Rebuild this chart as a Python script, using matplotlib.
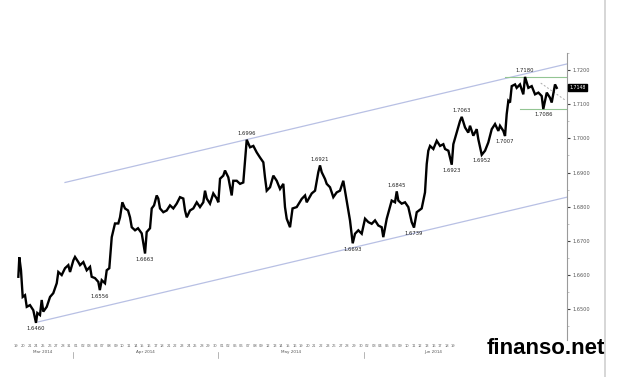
import numpy as np
import pandas as pd
import matplotlib
matplotlib.use('Agg')
import matplotlib.pyplot as plt
import matplotlib.transforms as mtrans
from matplotlib.lines import Line2D

# trading-day position (0 = 19 Mar 2014) and price
t = [0.29, 0.44, 0.69, 0.95, 1.30, 1.56, 2.05, 2.55, 2.96, 3.16, 3.56, 3.82, 4.06, 4.58, 5.08,
     5.57, 6.09, 6.33, 6.84, 7.34, 7.84, 8.10, 8.60, 8.85, 9.35, 9.61, 10.11, 10.62, 11.12, 11.37,
     11.87, 12.37, 12.6, 12.89, 13.38, 13.64, 14.03, 14.40, 14.89, 15.39, 15.65, 16.0, 16.40, 16.86,
     17.16, 17.42, 17.92, 18.37, 18.93, 19.43, 19.68, 20.18, 20.44, 20.79, 21.19, 21.43, 21.69,
     22.19, 22.70, 23.20, 23.70, 24.21, 24.71, 25.21, 25.47, 25.73, 26.22, 26.72, 27.24, 27.73,
     28.23, 28.49, 28.75, 29.24, 29.74, 30.26, 30.50, 30.76, 31.25, 31.51, 32.01, 32.52, 32.76,
     33.28, 33.78, 34.27, 34.53, 34.79, 35.29, 35.79, 36.30, 36.80, 37.30, 37.55, 37.81, 38.31,
     38.81, 39.32, 39.82, 40.32, 40.57, 40.83, 41.33, 41.71, 42.34, 43.10, 43.60, 43.85, 44.61,
     45.11, 45.60, 45.86, 46.12, 46.62, 46.87, 47.37, 47.87, 48.38, 48.88, 49.38, 49.89, 50.39,
     50.80, 51.15, 51.65, 52.16, 52.66, 53.16, 53.67, 54.17, 54.67, 55.18, 55.42, 55.94, 56.69,
     57.19, 57.45, 57.69, 58.20, 58.70, 59.20, 59.71, 60.06, 60.47, 61.22, 61.72, 61.98, 62.22,
     62.48, 62.98, 63.49, 63.99, 64.49, 64.75, 65.25, 65.76, 66.0, 66.51, 67.01, 67.27, 67.77,
     68.26, 68.52, 69.02, 69.53, 69.77, 70.29, 70.79, 71.28, 71.80, 72.30, 72.80, 73.05, 73.55,
     73.81, 74.06, 74.31, 74.56, 74.82, 75.32, 75.57, 76.07, 76.57, 76.83, 77.33, 77.84, 78.34,
     78.85, 79.35, 79.59, 80.11, 80.60, 80.86, 81.36, 81.62]
price = [1.6595, 1.6652, 1.6614, 1.6536, 1.6541, 1.6507, 1.6512, 1.6497, 1.6460, 1.6489, 1.6483,
         1.6527, 1.6493, 1.6507, 1.6536, 1.6547, 1.6576, 1.6609, 1.6600, 1.6620, 1.6629, 1.6609,
         1.6643, 1.6653, 1.6638, 1.6629, 1.6638, 1.6614, 1.6624, 1.6595, 1.6591, 1.6580, 1.6556,
         1.6585, 1.6576, 1.6614, 1.6620, 1.6711, 1.6751, 1.6751, 1.6769, 1.6813, 1.6795, 1.6789,
         1.6769, 1.6740, 1.6731, 1.6737, 1.6722, 1.6663, 1.6726, 1.6737, 1.6795, 1.6804, 1.6833,
         1.6824, 1.6795, 1.6784, 1.6789, 1.6804, 1.6795, 1.6809, 1.6828, 1.6824, 1.6789, 1.6769,
         1.6789, 1.6795, 1.6813, 1.6799, 1.6813, 1.6847, 1.6824, 1.6809, 1.6839, 1.6824, 1.6813,
         1.6882, 1.6891, 1.6906, 1.6886, 1.6833, 1.6876, 1.6876, 1.6867, 1.6871, 1.6935, 1.6996,
         1.6974, 1.6978, 1.6959, 1.6944, 1.6930, 1.6886, 1.6847, 1.6857, 1.6891, 1.6876, 1.6852,
         1.6867, 1.6799, 1.6765, 1.6740, 1.6795, 1.6799, 1.6823, 1.6833, 1.6813, 1.6839, 1.6847,
         1.6901, 1.6921, 1.6901, 1.6881, 1.6867, 1.6857, 1.6828, 1.6842, 1.6847, 1.6876, 1.6818,
         1.6760, 1.6693, 1.6721, 1.6731, 1.6721, 1.6765, 1.6755, 1.6750, 1.6760, 1.6745, 1.6740,
         1.6711, 1.6765, 1.6818, 1.6813, 1.6845, 1.6818, 1.6809, 1.6813, 1.6799, 1.6755, 1.6739,
         1.6784, 1.6795, 1.6842, 1.6925, 1.6964, 1.6978, 1.6969, 1.6993, 1.6978, 1.6983, 1.6969,
         1.6964, 1.6923, 1.6983, 1.7017, 1.7051, 1.7063, 1.7032, 1.7017, 1.7037, 1.7008, 1.7027,
         1.6998, 1.6952, 1.6964, 1.6988, 1.7027, 1.7042, 1.7022, 1.7037, 1.7022, 1.7007, 1.7071,
         1.7110, 1.7105, 1.7153, 1.7158, 1.7148, 1.7158, 1.7129, 1.7180, 1.7148, 1.7153, 1.7129,
         1.7134, 1.7124, 1.7086, 1.7134, 1.7119, 1.7105, 1.7158, 1.7148]

# swing high / low labels
ann_t = [2.96, 12.6, 19.43, 34.79, 45.86, 50.80, 57.45, 60.06, 65.76, 67.27, 70.29, 73.81, 76.83, 79.59]
ann_val = [1.6460, 1.6556, 1.6663, 1.6996, 1.6921, 1.6693, 1.6845, 1.6739, 1.6923, 1.7063,
           1.6952, 1.7007, 1.7180, 1.7086]
ann_side = ['low', 'low', 'low', 'high', 'high', 'low', 'high', 'low', 'low', 'high', 'low', 'low',
            'high', 'low']

# channel lines and range levels
upper_t, upper_p = [7.34, 83.17], [1.6871, 1.7218]
lower_t, lower_p = [3.31, 83.17], [1.6463, 1.6828]
range_top, range_top_t0 = 1.7180, 73.8
range_bot, range_bot_t0 = 1.7086, 76.1
dash_t, dash_p = [79.2, 82.9], [1.7162, 1.7112]
last_price = 1.7148

y_ticks = [1.65, 1.66, 1.67, 1.68, 1.69, 1.70, 1.71, 1.72]
days = pd.bdate_range('2014-03-19', '2014-07-11')
month_names = ['Mar 2014', 'Apr 2014', 'May 2014', 'Jun 2014']
last_visible_day = 67  # the rest sits under the watermark

x_lo, x_hi = -2.48, 83.17

fig = plt.figure(figsize=(6.2, 3.77), dpi=100)
ax = fig.add_axes([0, 37 / 377, 567 / 620, 287 / 377])
ax.set_xlim(x_lo, x_hi)
ax.set_ylim(1.64099, 1.72466)

for s in ['top', 'left', 'bottom']:
    ax.spines[s].set_visible(False)
ax.spines['right'].set_color('#9a9a9a')
ax.spines['right'].set_linewidth(0.8)

ax.set_xticks([])
ax.yaxis.tick_right()
ax.set_yticks(y_ticks)
ax.set_yticks(np.arange(1.645, 1.725, 0.005), minor=True)
ax.set_yticklabels(['%.4f' % v for v in y_ticks])
ax.tick_params(axis='y', which='major', length=2.5, width=0.8, color='#444444',
               labelsize=3.6, labelcolor='#555555', pad=1.5)
ax.tick_params(axis='y', which='minor', length=1.5, width=0.5, color='#aaaaaa')

# channel
ax.plot(upper_t, upper_p, color='#b8c0e4', lw=0.9)
ax.plot(lower_t, lower_p, color='#b8c0e4', lw=0.9)

# range
ax.plot([range_top_t0, x_hi], [range_top] * 2, color='#93c593', lw=0.8)
ax.plot([range_bot_t0, x_hi], [range_bot] * 2, color='#93c593', lw=0.8)
ax.plot(dash_t, dash_p, color='#aaaaaa', lw=0.7, ls=(0, (2, 2)))

ax.plot(t, price, color='black', lw=1.7, solid_joinstyle='miter')

for at, av, side in zip(ann_t, ann_val, ann_side):
    if side == 'high':
        ax.annotate('%.4f' % av, (at, av), xytext=(0, 2.5), textcoords='offset points',
                    ha='center', va='bottom', fontsize=3.8, color='#222222')
    else:
        ax.annotate('%.4f' % av, (at, av), xytext=(0, -2.5), textcoords='offset points',
                    ha='center', va='top', fontsize=3.8, color='#222222')

# last price box
tr_y = mtrans.blended_transform_factory(ax.transAxes, ax.transData)
ax.text(1.004, last_price, '%.4f' % last_price, transform=tr_y, ha='left', va='center',
        fontsize=3.3, color='white', bbox=dict(boxstyle='square,pad=0.25', fc='black', ec='black'))

# day and month labels along the bottom
tr_x = mtrans.blended_transform_factory(ax.transData, fig.transFigure)
for i, d in enumerate(days[:last_visible_day]):
    ax.text(i, 1 - 346 / 377, '%02d' % d.day, transform=tr_x, ha='center', va='center',
            fontsize=2.6, color='#666666', clip_on=False)

month_idx = [np.flatnonzero(days.month == m) for m in [3, 4, 5, 6]]
for k, (name, ids) in enumerate(zip(month_names, month_idx)):
    a = max(ids[0] - 0.5, x_lo)
    b = min(ids[-1] + 0.5, x_hi)
    ax.text((a + b) / 2, 1 - 352 / 377, name, transform=tr_x, ha='center', va='center',
            fontsize=3.0, color='#555555', clip_on=False)
    if k > 0:
        ax.add_line(Line2D([ids[0] - 0.5] * 2, [1 - 352 / 377, 1 - 358 / 377], transform=tr_x,
                           color='#999999', lw=0.5, clip_on=False))

fig.add_artist(Line2D([605 / 620] * 2, [0, 1], transform=fig.transFigure, color='#cfcfcf', lw=1.2))

fig.text(605 / 620, 1 - 349 / 377, 'finanso.net', ha='right', va='center', fontsize=16,
         fontweight='bold', family='Liberation Sans', color='black', zorder=10)

fig.savefig('out.png', dpi=100, facecolor='white')
